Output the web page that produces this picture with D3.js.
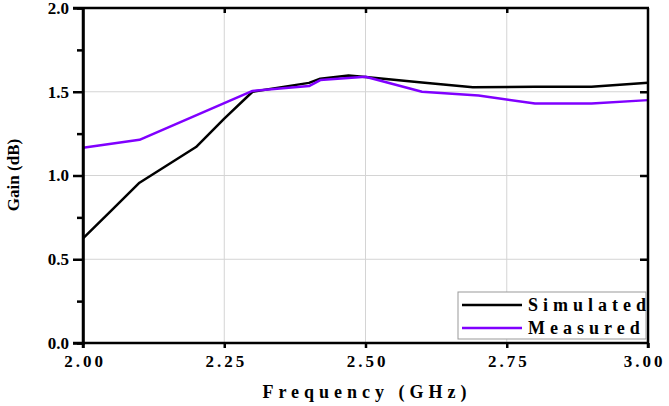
<!DOCTYPE html>
<html>
<head>
<meta charset="utf-8">
<script src="https://cdn.jsdelivr.net/npm/d3@7"></script>
<style>
  body { margin: 0; background: #fff; }
</style>
</head>
<body>
<svg id="chart" width="669" height="406"></svg>
<script>
// data
var simFreq = [2.0, 2.05, 2.1, 2.2, 2.25, 2.3, 2.4, 2.42, 2.47, 2.5, 2.6, 2.69, 2.8, 2.9, 3.0];
var simGain = [0.625, 0.79, 0.957, 1.17, 1.34, 1.50, 1.553, 1.578, 1.597, 1.588, 1.555, 1.527, 1.53, 1.53, 1.554];
var measFreq = [2.0, 2.1, 2.3, 2.4, 2.42, 2.5, 2.6, 2.7, 2.8, 2.9, 3.0];
var measGain = [1.166, 1.213, 1.505, 1.534, 1.57, 1.59, 1.50, 1.477, 1.43, 1.43, 1.45];
var xTicks = [2.0, 2.25, 2.5, 2.75, 3.0];
var yTicks = [0.0, 0.5, 1.0, 1.5, 2.0];
var yMinor = [0.25, 0.75, 1.25, 1.75];
var seriesNames = ['Simulated', 'Measured'];
var seriesColors = ['#000000', '#8000ff'];

var fuente = "'Times New Roman', 'Liberation Serif', 'DejaVu Serif', serif";

var xScale = d3.scaleLinear().domain([2, 3]).range([83, 648]);
var yScale = d3.scaleLinear().domain([0, 2]).range([343, 8]);

var svg = d3.select('#chart')
  .style('font-family', fuente)
  .attr('font-weight', 'bold');

// grid
svg.selectAll('.vgrid')
  .data(xTicks.slice(1, -1))
  .join('line')
  .attr('class', 'vgrid')
  .attr('x1', d => xScale(d)).attr('x2', d => xScale(d))
  .attr('y1', yScale(0)).attr('y2', yScale(2))
  .attr('stroke', '#d4d4d4').attr('stroke-width', 1);

svg.selectAll('.hgrid')
  .data(yTicks.slice(1, -1))
  .join('line')
  .attr('class', 'hgrid')
  .attr('x1', xScale(2)).attr('x2', xScale(3))
  .attr('y1', d => yScale(d)).attr('y2', d => yScale(d))
  .attr('stroke', '#d4d4d4').attr('stroke-width', 1);

// curves
function dibujarCurva(xs, ys, color) {
  var pts = xs.map((x, i) => [x, ys[i]]);
  svg.append('path')
    .datum(pts)
    .attr('fill', 'none')
    .attr('stroke', color)
    .attr('stroke-width', 2.5)
    .attr('stroke-linejoin', 'round')
    .attr('d', d3.line()
      .x(d => xScale(d[0]))
      .y(d => yScale(d[1])));
}
dibujarCurva(simFreq, simGain, seriesColors[0]);
dibujarCurva(measFreq, measGain, seriesColors[1]);

// axes
var gBottom = svg.append('g')
  .attr('transform', 'translate(0,' + yScale(0) + ')')
  .call(d3.axisBottom(xScale).tickValues(xTicks).tickSize(5).tickFormat(d => d.toFixed(2)));
var gLeft = svg.append('g')
  .attr('transform', 'translate(' + xScale(2) + ',0)')
  .call(d3.axisLeft(yScale).tickValues(yTicks).tickSize(10).tickFormat(d => d.toFixed(1)));
var gLeftMinor = svg.append('g')
  .attr('transform', 'translate(' + xScale(2) + ',0)')
  .call(d3.axisLeft(yScale).tickValues(yMinor).tickSize(6).tickFormat(''));
var gTop = svg.append('g')
  .attr('transform', 'translate(0,' + yScale(2) + ')')
  .call(d3.axisBottom(xScale).tickValues(xTicks.slice(1, -1)).tickSize(5).tickFormat(''));
var gRight = svg.append('g')
  .attr('transform', 'translate(' + xScale(3) + ',0)')
  .call(d3.axisRight(yScale).tickValues(yTicks.slice(1, -1)).tickSize(-8).tickFormat(''));

[gBottom, gLeft, gLeftMinor, gTop, gRight].forEach(g => {
  g.attr('font-family', null).style('font-family', fuente);
  g.select('.domain').attr('stroke', '#000').attr('stroke-width', 2.5);
  g.selectAll('.tick line').attr('stroke', '#000').attr('stroke-width', 2.5);
});
gBottom.select('.domain').attr('d', 'M' + (xScale(2) - 10) + ',0H' + (xScale(3) + 1));
gTop.select('.domain').attr('d', 'M' + (xScale(2) - 10) + ',0H' + (xScale(3) + 1));
gRight.select('.domain').attr('d', 'M0,' + yScale(2) + 'V' + (yScale(0) + 5));
gLeft.select('.domain').attr('d', 'M0,' + yScale(2) + 'V' + (yScale(0) + 5));

gBottom.selectAll('.tick text')
  .attr('y', 12)
  .attr('dx', (d, i) => i === xTicks.length - 1 ? -4 : 1.5)
  .attr('font-size', 17)
  .attr('letter-spacing', 3)
  .attr('fill', '#000');
gLeft.selectAll('.tick text')
  .attr('x', -14)
  .attr('font-size', 17)
  .attr('fill', '#000');

// axis titles
svg.append('text')
  .attr('x', 367).attr('y', 398)
  .attr('text-anchor', 'middle')
  .attr('font-size', 18)
  .attr('letter-spacing', 5)
  .text('Frequency (GHz)');

svg.append('text')
  .attr('transform', 'translate(19,175) rotate(-90)')
  .attr('text-anchor', 'middle')
  .attr('font-size', 17)
  .text('Gain (dB)');

// legend
var legend = svg.append('g').attr('transform', 'translate(458,292)');
legend.append('rect')
  .attr('width', 188).attr('height', 47)
  .attr('fill', '#fff').attr('stroke', '#999').attr('stroke-width', 1);
var rows = legend.selectAll('.lrow')
  .data(seriesNames)
  .join('g')
  .attr('class', 'lrow')
  .attr('transform', (d, i) => 'translate(0,' + (13 + i * 23) + ')');
rows.append('line')
  .attr('x1', 4).attr('x2', 64)
  .attr('stroke', (d, i) => seriesColors[i])
  .attr('stroke-width', 2.5);
rows.append('text')
  .attr('x', 70).attr('y', 6)
  .attr('font-size', 18)
  .attr('letter-spacing', 5)
  .text(d => d);
</script>
</body>
</html>
